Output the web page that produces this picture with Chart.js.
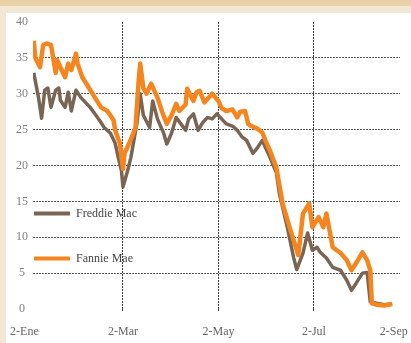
<!DOCTYPE html>
<html>
<head>
<meta charset="utf-8">
<script src="https://cdn.jsdelivr.net/npm/chart.js@4/dist/chart.umd.min.js"></script>
<style>
html,body{margin:0;padding:0;background:#fff;}
#wrap{position:relative;width:411px;height:343px;overflow:hidden;background:#fff;}
#band1{position:absolute;left:0;top:0;width:411px;height:6px;background:#e8d3a9;}
#band2{position:absolute;left:0;top:6px;width:411px;height:7px;background:#f2e7d4;}
#band3{position:absolute;left:0;top:13px;width:6px;height:330px;background:#f2e7d4;}
canvas{position:absolute;left:0;top:0;}
</style>
</head>
<body>
<div id="wrap">
<div id="band1"></div><div id="band2"></div><div id="band3"></div>
<canvas id="c" width="411" height="343"></canvas>
</div>
<script>
// Day offsets from 2-Jan (2008) and closing prices (US$)
const fannieDays = [3,4,7,9,11,14,17,18,20,23,25,27,30,31,34,38,42,46,50,54,55,58,60,61,64,68,70,71,73,75,78,82,85,88,91,94,96,100,101,105,107,109,112,115,117,121,123,126,130,133,135,138,140,142,146,149,151,154,158,162,167,172,175,179,181,185,188,190,194,199,203,206,209,213,216,218,219,222,227,232];
const fannieVals = [37.4,35.0,33.7,36.8,37.0,36.8,32.9,34.7,33.7,32.3,34.2,33.3,35.6,34.2,32.3,30.9,29.5,28.1,27.6,26.3,24.9,23.1,19.5,21.7,23.1,25.3,31.8,34.2,30.8,30.0,31.4,29.5,27.5,25.8,27.0,28.6,27.6,28.5,30.7,29.0,30.2,30.4,28.8,29.5,30.0,29.0,28.0,27.6,27.8,26.7,27.5,27.6,25.8,25.5,25.1,24.6,23.5,22.0,19.7,14.7,11.0,7.5,13.3,14.7,11.4,12.8,11.4,13.3,8.6,7.8,6.8,5.4,6.4,7.9,6.8,5.4,0.8,0.6,0.5,0.7];
const freddieDays = [3,6,8,10,12,14,17,19,20,23,25,27,30,33,36,39,42,45,48,52,55,57,59,60,63,65,69,71,73,77,79,82,86,88,91,94,97,100,102,105,108,111,114,117,120,123,126,130,133,136,139,143,146,149,151,154,158,160,165,169,171,175,178,181,184,186,190,194,199,203,206,209,213,216,218,222,227,232];
const freddieVals = [32.9,29.5,26.6,30.5,30.8,28.1,30.5,30.8,29.1,28.1,30.2,27.6,30.5,29.5,28.8,28.1,27.2,26.3,25.3,24.5,23.1,21.1,19.3,17.0,19.3,21.1,26.0,30.0,27.0,25.3,29.0,26.5,24.5,23.0,24.5,26.7,25.8,24.9,26.5,27.2,24.9,26.0,26.7,26.5,27.2,26.5,25.8,25.5,24.9,24.0,23.5,21.7,22.5,23.5,22.5,21.1,19.0,16.0,11.4,7.2,5.5,7.8,10.6,8.2,8.6,7.9,7.1,5.8,5.4,4.0,2.6,3.6,5.0,5.1,1.0,0.8,0.6,0.7];
const seriesNames = ['Fannie Mae','Freddie Mac'];
const tickDays = [-3,60,121,182,233];
const tickLabels = ['2-Ene','2-Mar','2-May','2-Jul','2-Sep'];

const toPts = (d, v) => d.map((x, i) => ({x: x, y: v[i]}));
const serif = "'Liberation Serif','DejaVu Serif',serif";

const inlineLegend = {
  id: 'inlineLegend',
  afterDatasetsDraw(chart, args, opts) {
    const {ctx, chartArea, scales} = chart;
    const y = scales.y;
    chart.data.datasets.forEach((ds, i) => {
      const py = Math.round(y.getPixelForValue(opts.levels[i])) + 0.5;
      ctx.save();
      ctx.strokeStyle = ds.borderColor;
      ctx.lineWidth = 4;
      ctx.beginPath();
      ctx.moveTo(chartArea.left + 1, py);
      ctx.lineTo(chartArea.left + 37, py);
      ctx.stroke();
      ctx.fillStyle = '#444444';
      ctx.font = '12px ' + serif;
      ctx.textBaseline = 'middle';
      ctx.textAlign = 'left';
      ctx.fillText(ds.label, chartArea.left + 43, py);
      ctx.restore();
    });
  }
};

new Chart(document.getElementById('c'), {
  type: 'line',
  data: {
    datasets: [
      {label: seriesNames[0], data: toPts(fannieDays, fannieVals), borderColor: '#f5861f', borderWidth: 4.5, pointRadius: 0, tension: 0, borderJoinStyle: 'round', order: 0},
      {label: seriesNames[1], data: toPts(freddieDays, freddieVals), borderColor: '#7a6454', borderWidth: 3.5, pointRadius: 0, tension: 0, borderJoinStyle: 'round', order: 1}
    ]
  },
  options: {
    responsive: false,
    animation: false,
    events: [],
    layout: {padding: {top: 22, right: 11, bottom: 0, left: 0}},
    plugins: {
      legend: {display: false},
      tooltip: {enabled: false},
      inlineLegend: {levels: [7.1, 13.4]}
    },
    scales: {
      x: {
        type: 'linear',
        min: 2.5,
        max: 237,
        afterBuildTicks: (s) => { s.ticks = tickDays.map(v => ({value: v})); },
        afterFit: (s) => { s.height = 34; s.paddingLeft = 0; s.paddingRight = 0; },
        ticks: {
          autoSkip: false,
          maxRotation: 0,
          padding: 13,
          color: '#666666',
          font: {family: serif, size: 12},
          callback: (v, i) => tickLabels[i]
        },
        grid: {
          color: (c) => (c.index === 0 || c.index === tickDays.length - 1) ? 'rgba(0,0,0,0)' : '#3c3c3c',
          lineWidth: 1,
          drawTicks: true,
          tickLength: 3,
          tickBorderDash: [2, 1]
        },
        border: {display: false, dash: [2, 1]}
      },
      y: {
        min: 0,
        max: 40,
        afterFit: (s) => { s.width = 33; },
        ticks: {
          stepSize: 5,
          padding: 5,
          crossAlign: 'center',
          color: '#808080',
          font: {family: serif, size: 12}
        },
        grid: {
          color: (c) => (c.tick && (c.tick.value === 0 || c.tick.value === 40)) ? 'rgba(0,0,0,0)' : '#555555',
          lineWidth: 1,
          drawTicks: false
        },
        border: {display: false, dash: [2, 1]}
      }
    }
  },
  plugins: [inlineLegend]
});
</script>
</body>
</html>
